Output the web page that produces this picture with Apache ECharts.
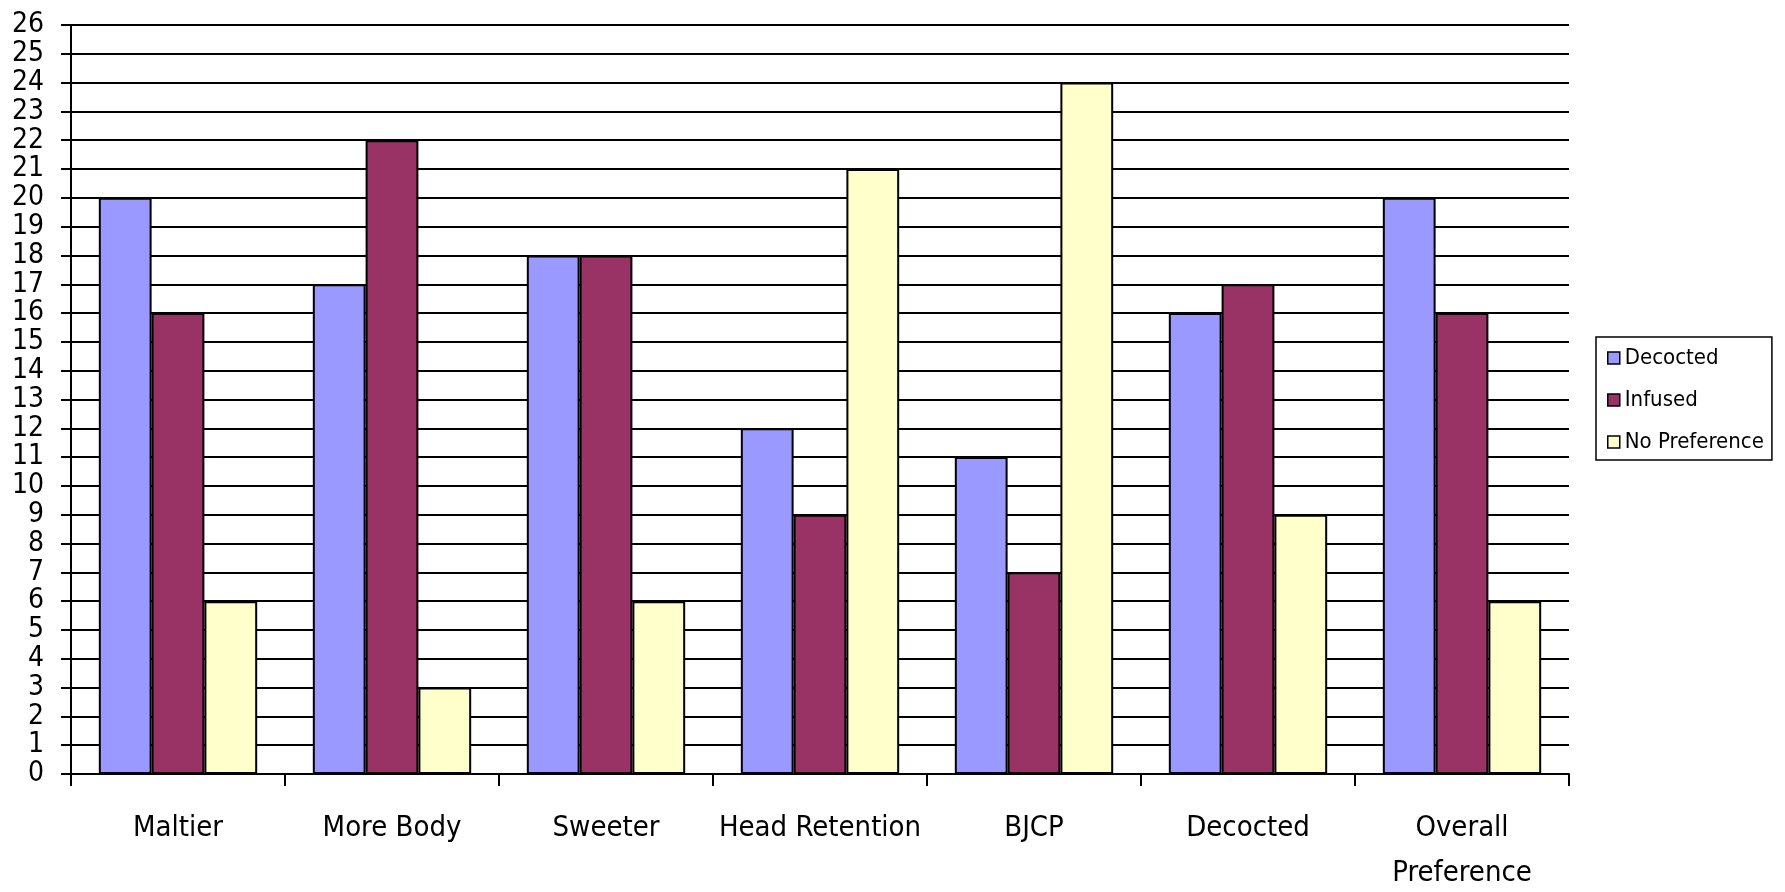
<!DOCTYPE html>
<html>
<head>
<meta charset="utf-8">
<title>Decocted vs Infused</title>
<script src="https://cdn.jsdelivr.net/npm/echarts@6/dist/echarts.min.js"></script>
<style>
  html, body { margin: 0; padding: 0; background: #fff; }
  #chart { width: 1785px; height: 892px; }
</style>
</head>
<body>
<div id="chart"></div>
<script>
const categories = ["Maltier", "More Body", "Sweeter", "Head Retention", "BJCP", "Decocted", "Overall Preference"];
const decocted = [20, 17, 18, 12, 11, 16, 20];
const infused = [16, 22, 18, 9, 7, 17, 16];
const noPreference = [6, 3, 6, 21, 24, 9, 6];
const yTicks = ["0", "1", "2", "3", "4", "5", "6", "7", "8", "9", "10", "11", "12", "13",
  "14", "15", "16", "17", "18", "19", "20", "21", "22", "23", "24", "25", "26"];

const FONT = '"DejaVu Sans Condensed", "Liberation Sans Narrow", "Liberation Sans", sans-serif';

const chart = echarts.init(document.getElementById("chart"));

const barStyle = (color) => ({
  color: color,
  borderColor: "#000",
  borderWidth: 2,
});

const option = {
  backgroundColor: "#fff",
  animation: false,
  grid: {
    left: 71,
    right: 216,
    top: 25,
    bottom: 118,
    containLabel: false,
    outerBoundsMode: "none",
  },
  legend: {
    orient: "vertical",
    left: 1596,
    top: 337,
    backgroundColor: "#fff",
    borderColor: "#000",
    borderWidth: 1.5,
    borderRadius: 0,
    padding: [10, 8, 7, 11],
    itemWidth: 12,
    itemHeight: 12,
    itemGap: 20,
    itemStyle: { borderColor: "#000", borderWidth: 1.5 },
    icon: "rect",
    textStyle: { fontFamily: FONT, fontSize: 22, color: "#000" },
    data: ["Decocted", "Infused", "No Preference"],
  },
  xAxis: {
    type: "category",
    data: categories,
    axisLine: { lineStyle: { color: "#000", width: 2 } },
    axisTick: { show: true, length: 12, lineStyle: { color: "#000", width: 2 } },
    axisLabel: {
      color: "#000",
      fontFamily: FONT,
      fontSize: 29,
      lineHeight: 45,
      margin: 32,
      interval: 0,
      formatter: (v) => (v.length > 15 ? v.replace(" ", "\n") : v),
    },
    splitLine: { show: false },
  },
  yAxis: [
    {
      type: "value",
      min: 0,
      max: 26,
      interval: 1,
      axisLine: { show: true, lineStyle: { color: "#000", width: 2 } },
      axisTick: { show: true, length: 10, lineStyle: { color: "#000", width: 2 } },
      axisLabel: { show: false },
      splitLine: { show: true, lineStyle: { color: "#000", width: 2 } },
    },
    {
      // tick labels + outward ticks; category axis so none get dropped for overlapping
      type: "category",
      position: "left",
      data: yTicks,
      boundaryGap: false,
      axisLine: { show: false },
      axisTick: {
        show: true,
        interval: 0,
        inside: false,
        length: 10,
        lineStyle: { color: "#000", width: 2 },
      },
      splitLine: { show: false },
      axisLabel: {
        interval: 0,
        color: "#000",
        fontFamily: FONT,
        fontSize: 28,
        margin: 27,
      },
    },
  ],
  series: [
    {
      name: "Decocted",
      type: "bar",
      data: decocted,
      barGap: "0%",
      barCategoryGap: "26%",
      itemStyle: barStyle("#9999FF"),
    },
    {
      name: "Infused",
      type: "bar",
      data: infused,
      barGap: "0%",
      barCategoryGap: "26%",
      itemStyle: barStyle("#993366"),
    },
    {
      name: "No Preference",
      type: "bar",
      data: noPreference,
      barGap: "0%",
      barCategoryGap: "26%",
      itemStyle: barStyle("#FFFFCC"),
    },
  ],
};

chart.setOption(option);
</script>
</body>
</html>
